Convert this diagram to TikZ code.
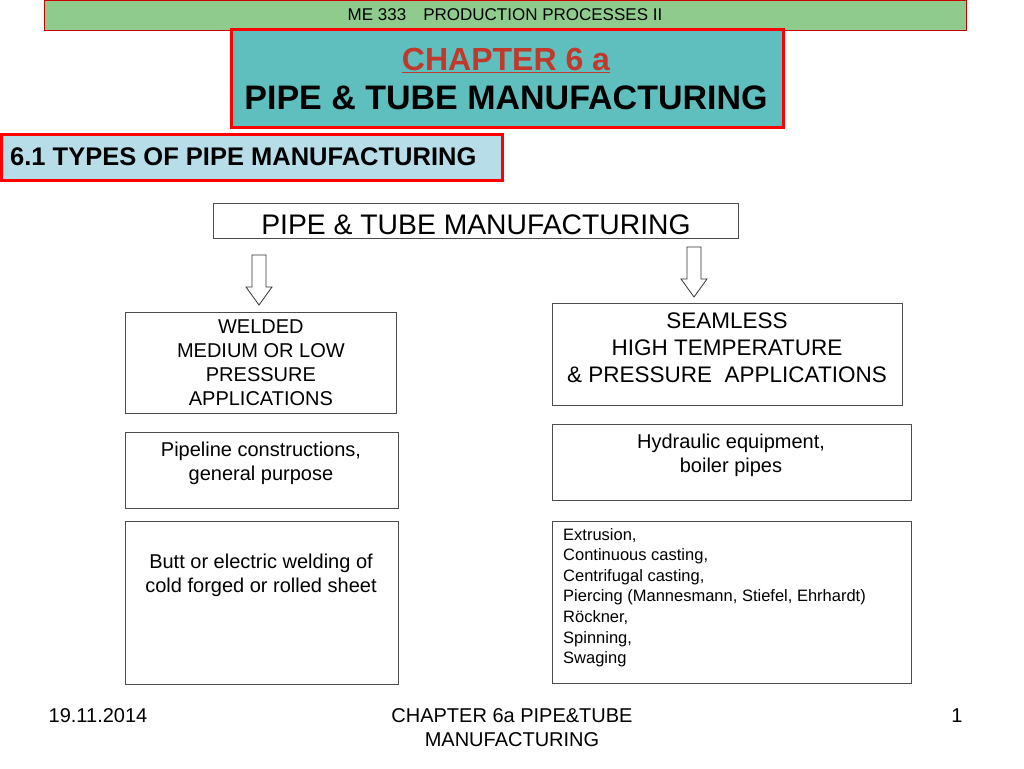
\documentclass[tikz,border=0pt]{standalone}
\usepackage{fontspec}
\setmainfont{Liberation Sans}
\definecolor{topgreen}{HTML}{8FCB8C}
\definecolor{teal}{HTML}{5FBFBF}
\definecolor{lblue}{HTML}{B7DEE8}
\definecolor{chred}{HTML}{C0392B}
\tikzset{
  box/.style={draw=black!70,line width=0.8pt,align=center},
  redbox/.style={draw=red,line width=3pt},
  hollow/.style={draw=black!80,fill=white,line width=0.8pt},
  txt/.style={align=center,font=\fontsize{20}{24}\selectfont},
}
\begin{document}
\begin{tikzpicture}[x=1pt,y=-1pt]
\useasboundingbox (0,0) rectangle (1024,768);
\node[draw=red!80!black,line width=0.8pt,fill=topgreen,minimum width=922pt,minimum height=30pt,anchor=north west,inner sep=0pt] (top) at (44,0) {};
\node[font=\fontsize{17}{20}\selectfont] (toptext) at (505,15) {ME 333\quad PRODUCTION PROCESSES II};
\node[redbox,fill=teal,minimum width=552pt,minimum height=98pt,anchor=north west,inner sep=0pt] (chap) at (230,28) {};
\node[font=\bfseries\fontsize{32}{36}\selectfont,text=chred] (chapa) at (506,60) {\underline{CHAPTER 6 a}};
\node[font=\bfseries\fontsize{34}{38}\selectfont] (chapb) at (506,98) {PIPE \& TUBE MANUFACTURING};
\node[redbox,fill=lblue,minimum width=501pt,minimum height=46pt,anchor=north west,inner sep=0pt] (sec) at (0,133) {};
\node[font=\bfseries\fontsize{25.5}{28}\selectfont,anchor=west,inner sep=0pt] (sectext) at (10,157) {6.1 TYPES OF PIPE MANUFACTURING};
\node[box,minimum width=525pt,minimum height=35pt,anchor=north west,inner sep=0pt] (main) at (213,203) {};
\node[font=\fontsize{28.3}{32}\selectfont] (maintext) at (476,225) {PIPE \& TUBE MANUFACTURING};
\draw[hollow] (252,255) -- (266,255) -- (266,287) -- (272,287) -- (259,305) -- (246,287) -- (252,287) -- cycle;
\draw[hollow] (687,247) -- (701,247) -- (701,279) -- (707,279) -- (694,297) -- (681,279) -- (687,279) -- cycle;
\node[box,minimum width=271pt,minimum height=101pt,anchor=north west,inner sep=0pt] (l1) at (125,312) {};
\node[txt,font=\fontsize{20}{24}\selectfont] at (l1.center) {WELDED\\MEDIUM OR LOW\\PRESSURE\\APPLICATIONS};
\node[box,minimum width=273pt,minimum height=76pt,anchor=north west,inner sep=0pt] (l2) at (125,432) {};
\node[txt,anchor=north] at (261,438) {Pipeline constructions,\\general purpose};
\node[box,minimum width=273pt,minimum height=163pt,anchor=north west,inner sep=0pt] (l3) at (125,521) {};
\node[txt,anchor=north] at (261,550) {Butt or electric welding of\\cold forged or rolled sheet};
\node[box,minimum width=350pt,minimum height=102pt,anchor=north west,inner sep=0pt] (r1) at (552,303) {};
\node[align=center,font=\fontsize{22.5}{27}\selectfont,anchor=north] at (727,309) {SEAMLESS\\HIGH TEMPERATURE\\\& PRESSURE\ \ APPLICATIONS};
\node[box,minimum width=359pt,minimum height=76pt,anchor=north west,inner sep=0pt] (r2) at (552,424) {};
\node[txt,anchor=north] at (731,430) {Hydraulic equipment,\\boiler pipes};
\node[box,minimum width=359pt,minimum height=162pt,anchor=north west,inner sep=0pt] (r3) at (552,521) {};
\node[align=left,font=\fontsize{16.5}{20.6}\selectfont,anchor=north west,inner sep=0pt] at (563,528) {Extrusion,\\Continuous casting,\\Centrifugal casting,\\Piercing (Mannesmann, Stiefel, Ehrhardt)\\Röckner,\\Spinning,\\Swaging};
\node[font=\fontsize{20}{24}\selectfont] (date) at (98,716) {19.11.2014};
\node[align=center,font=\fontsize{20}{24}\selectfont] (foot) at (512,728) {CHAPTER 6a PIPE\&TUBE\\MANUFACTURING};
\node[font=\fontsize{20}{24}\selectfont] (pg) at (957,716) {1};
\end{tikzpicture}
\end{document}
